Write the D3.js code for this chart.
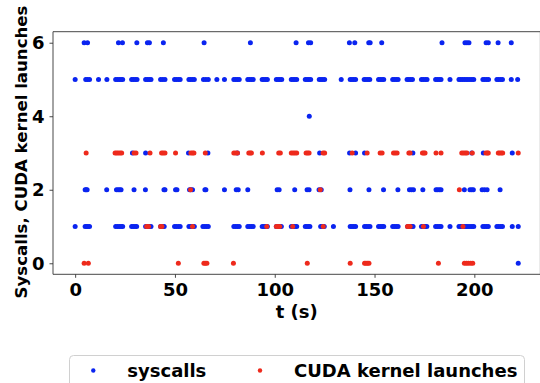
<!DOCTYPE html>
<html><head><meta charset="utf-8">
<script src="https://cdn.jsdelivr.net/npm/d3@7"></script>
<style>html,body{margin:0;padding:0;background:#fff;}svg{display:block;}</style>
</head><body>
<script>
// ---- data (t in seconds) ----
const sys6 = [4.5, 6.2, 21.7, 23.7, 30.9, 36.2, 37.2, 44.2, 64.6, 87.8, 110.7, 116.9, 118, 137.4, 140.1, 147.1, 147.8, 153.6, 183.8, 195.3, 196.3, 197.3, 205.9, 207, 211.9, 218.5];
const sys5 = [0, 5.3, 6.2, 7.2, 11.7, 15.9, 20.3, 21.2, 22.1, 23, 23.8, 28.3, 29.2, 30.1, 31, 35.3, 36.2, 37.1, 38, 42.8, 43.9, 45, 49.8, 50.7, 51.7, 52.6, 57, 57.9, 58.8, 59.7, 64.3, 65.5, 66.7, 71, 74.8, 79.5, 80.4, 81.3, 82.2, 86.5, 87.4, 88.3, 89.2, 93.7, 94.6, 95.5, 96.3, 100.8, 101.7, 102.6, 103.5, 108.3, 109.2, 110.1, 111, 115.3, 116.2, 117.1, 118, 122.3, 123.2, 124.1, 125, 133.3, 137.8, 138.7, 139.6, 140.5, 144.8, 145.7, 146.7, 147.6, 152, 152.9, 153.8, 154.6, 159.1, 160, 160.9, 161.8, 166.3, 167.2, 168.1, 169, 173.5, 174.4, 175.4, 176.3, 180.6, 181.5, 182.4, 183.3, 187.8, 192.3, 193.2, 194.1, 195, 195.9, 196.8, 197.8, 198.8, 199.7, 204.3, 205.2, 206.2, 207.1, 211.3, 212.2, 213.2, 214.1, 218.5, 221.7];
const sys4 = [117.3];
const sys3 = [28.7, 35.3, 56.8, 66.5, 81.3, 122.5, 137.5, 140.5, 145, 169.2, 198.7, 204.5, 219];
const sys2 = [5, 5.5, 6, 15.8, 20.7, 21.5, 22.3, 23, 29.5, 35.2, 44.5, 45, 50.3, 51, 57.3, 58, 58.8, 65, 65.5, 74.8, 80.7, 81.7, 86.5, 101.2, 102.2, 110, 116.2, 117.2, 122.2, 123.3, 137.7, 147.2, 154.5, 161.7, 167.5, 168.5, 169.5, 174.2, 180.8, 181.6, 182.5, 183.3, 195, 197.8, 198.7, 199.5, 203.9, 205.1, 206.4, 212.9];
const sys1 = [0, 5, 5.7, 6.4, 7.2, 20.3, 21.2, 22.1, 23, 23.8, 28.3, 29.1, 30, 30.8, 35.3, 36.2, 37.1, 38, 42.8, 43.7, 44.6, 49.8, 50.7, 51.7, 52.6, 57, 57.9, 58.8, 59.7, 64, 64.9, 65.8, 66.7, 79.5, 80.4, 81.3, 82.2, 86.5, 87.4, 88.3, 89.2, 93.7, 94.6, 95.5, 96.3, 100.8, 101.6, 102.5, 103.3, 108.3, 109.2, 110.1, 111, 115.3, 116.1, 116.9, 117.6, 123, 123.9, 124.8, 129.4, 137.8, 138.7, 139.6, 140.5, 145, 145.9, 146.8, 147.7, 152, 152.9, 153.8, 154.6, 159.1, 160, 160.9, 161.8, 166.6, 167.5, 168.4, 169.3, 173.5, 174.4, 175.3, 176.2, 180.6, 181.5, 182.4, 183.3, 187.8, 192.3, 193.2, 194.1, 195, 195.9, 196.8, 197.8, 198.8, 199.7, 204.3, 205.2, 206.1, 207, 211.3, 212.2, 213.2, 214.1, 219, 222];
const sys0 = [222];

const cuda3 = [5.5, 20, 20.8, 21.6, 22.5, 23.3, 29.5, 30.5, 37.5, 43.3, 44.1, 45, 50.3, 58, 58.8, 59.5, 65.2, 79.5, 80.4, 81.3, 87, 87.7, 88.3, 93.8, 102, 102.8, 108.3, 109.2, 110.1, 111, 115.7, 116.5, 117.2, 124.2, 125, 138.8, 146.3, 152.8, 153.8, 159.5, 160.4, 161.3, 167.2, 167.8, 174, 174.7, 175.3, 180.8, 183.3, 193.7, 194.6, 195.5, 196.3, 199, 205.8, 206.5, 207, 212, 212.7, 213.5, 214.2, 222];
const cuda2 = [57.8, 122.8, 192.5];
const cuda1 = [35.8, 36.8, 42.8, 43.5, 58.8, 96, 100.8, 101.6, 102.5, 109, 124.3, 166.5, 167.2, 167.8, 174.5, 194.3];
const cuda0 = [4.5, 6.6, 51.7, 64.5, 65.2, 66, 79.3, 116.3, 137.8, 145, 145.7, 146.5, 147.2, 182, 195, 196, 197, 198.2, 199.2];

const xTicks = [0, 50, 100, 150, 200];
const yTicks = [0, 2, 4, 6];
const seriesNames = ["syscalls", "CUDA kernel launches"];
const seriesColors = ["#0a24f0", "#ee2a1c"];
const xLabel = "t (s)";
const yLabel = "Syscalls, CUDA kernel launches";

// build point lists
const sysPts = [[sys0,0],[sys1,1],[sys2,2],[sys3,3],[sys4,4],[sys5,5],[sys6,6]]
  .flatMap(([arr,y]) => arr.map(t => ({t, y})));
const cudaPts = [[cuda0,0],[cuda1,1],[cuda2,2],[cuda3,3]]
  .flatMap(([arr,y]) => arr.map(t => ({t, y})));

const W = 540, H = 383;
const L = 53, R = 540.4, T = 31.7, B = 274.3;
const font = "'DejaVu Sans', sans-serif";

const svg = d3.select("body").append("svg").attr("width", W).attr("height", H);
const x = d3.scaleLinear().domain([-11.1, 233.1]).range([L, R]);
const y = d3.scaleLinear().domain([-0.3, 6.3]).range([B, T]);

// points
const r = 2.5;
svg.append("g").selectAll("circle").data(sysPts).join("circle")
  .attr("cx", d => x(d.t)).attr("cy", d => y(d.y)).attr("r", r).attr("fill", seriesColors[0]);
svg.append("g").selectAll("circle").data(cudaPts).join("circle")
  .attr("cx", d => x(d.t)).attr("cy", d => y(d.y)).attr("r", r).attr("fill", seriesColors[1]);

// axes
const fmt = d3.format("d");
const xAxis = svg.append("g").attr("transform", `translate(0,${B})`)
  .call(d3.axisBottom(x).tickValues(xTicks).tickFormat(fmt).tickSize(3.5).tickPadding(5).tickSizeOuter(0));
const yAxis = svg.append("g").attr("transform", `translate(${L},0)`)
  .call(d3.axisLeft(y).tickValues(yTicks).tickFormat(fmt).tickSize(3.5).tickPadding(5).tickSizeOuter(0));
[xAxis, yAxis].forEach(g => {
  g.select(".domain").remove();
  g.selectAll("line").attr("stroke", "#333").attr("stroke-width", 0.9);
  g.selectAll("text").attr("font-family", font).attr("font-weight", "bold")
   .attr("font-size", 18).attr("fill", "#000");
});
// spines (left, top, bottom; right is off canvas)
svg.append("path")
  .attr("d", `M${R},${T}H${L}V${B}H${R}V${T}`)
  .attr("fill", "none").attr("stroke", "#333").attr("stroke-width", 0.9);

// axis labels
svg.append("text").attr("x", (L + R) / 2).attr("y", 318)
  .attr("text-anchor", "middle").attr("font-family", font).attr("font-weight", "bold")
  .attr("font-size", 18).text(xLabel);
svg.append("text").attr("transform", `translate(27,${(T + B) / 2 - 1}) rotate(-90)`)
  .attr("text-anchor", "middle").attr("font-family", font).attr("font-weight", "bold")
  .attr("font-size", 16.6).text(yLabel);

// legend
const lg = svg.append("g");
lg.append("rect").attr("x", 69.5).attr("y", 355.5).attr("width", 455).attr("height", 45)
  .attr("rx", 4).attr("fill", "#fff").attr("fill-opacity", 0.8)
  .attr("stroke", "#d0d0d0").attr("stroke-width", 1);
const legX = [93.3, 260];
seriesNames.forEach((n, i) => {
  lg.append("circle").attr("cx", legX[i]).attr("cy", 370.5).attr("r", 2.2).attr("fill", seriesColors[i]);
  lg.append("text").attr("x", legX[i] + 34).attr("y", 377).attr("font-family", font)
    .attr("font-weight", "bold").attr("font-size", 18).text(n);
});
</script>
</body></html>
